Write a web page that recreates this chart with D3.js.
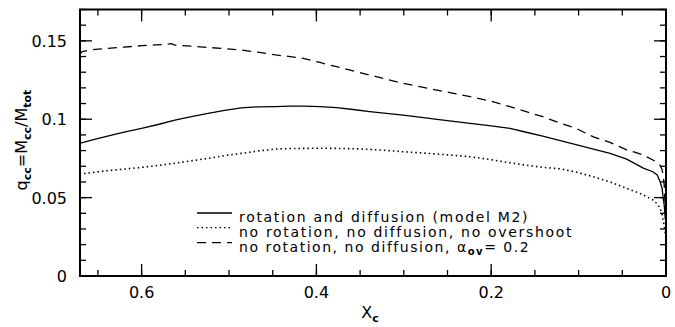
<!DOCTYPE html>
<html>
<head>
<meta charset="utf-8">
<script src="https://cdn.jsdelivr.net/npm/d3@7"></script>
<style>
  body { margin: 0; background: #fff; }
  svg { font-family: "DejaVu Sans", sans-serif; }
  .tick-label { font-size: 16px; }
  .legend { font-family: "DejaVu Sans", sans-serif; font-size: 14px; }
</style>
</head>
<body>
<div id="chart"></div>
<script>
w = 675;
h = 327;
margin = {left: 80, right: 9, top: 9.5, bottom: 51};

// solid: rotation and diffusion (model M2)
xcSolid = [0.671, 0.655, 0.639, 0.62, 0.6, 0.58, 0.562, 0.543, 0.524, 0.505, 0.486, 0.467, 0.447, 0.43, 0.415, 0.396, 0.377, 0.358, 0.339, 0.32, 0.301, 0.282, 0.262, 0.243, 0.224, 0.2, 0.1785, 0.16, 0.141, 0.121, 0.103, 0.083, 0.064, 0.045, 0.035, 0.026, 0.015, 0.01, 0.007, 0.0045, 0.0034, 0.002, 0.0008];
qSolid  = [0.0846, 0.087, 0.0893, 0.0918, 0.0942, 0.0968, 0.0995, 0.1017, 0.1037, 0.1057, 0.1072, 0.1079, 0.1081, 0.1083, 0.1083, 0.108, 0.1074, 0.1062, 0.1049, 0.1038, 0.1026, 0.1013, 0.0999, 0.0987, 0.0974, 0.0958, 0.0942, 0.0917, 0.0893, 0.0864, 0.0838, 0.081, 0.0782, 0.0745, 0.0715, 0.0688, 0.0665, 0.0645, 0.0605, 0.056, 0.0506, 0.045, 0.036];

// dotted: no rotation, no diffusion, no overshoot
xcDot = [0.671, 0.655, 0.639, 0.62, 0.6, 0.58, 0.562, 0.543, 0.524, 0.505, 0.486, 0.467, 0.447, 0.43, 0.415, 0.396, 0.377, 0.358, 0.339, 0.32, 0.301, 0.282, 0.262, 0.243, 0.224, 0.2, 0.1785, 0.16, 0.141, 0.121, 0.103, 0.083, 0.064, 0.045, 0.035, 0.026, 0.015, 0.01, 0.007, 0.0045, 0.0034, 0.002, 0.0008];
qDot  = [0.065, 0.0661, 0.0672, 0.0682, 0.0693, 0.0706, 0.0719, 0.0735, 0.075, 0.0768, 0.0782, 0.0797, 0.081, 0.0813, 0.0814, 0.0815, 0.0814, 0.0812, 0.0808, 0.0801, 0.0793, 0.0786, 0.0778, 0.077, 0.0761, 0.0742, 0.0722, 0.0707, 0.0693, 0.0684, 0.0663, 0.0633, 0.06, 0.0559, 0.0538, 0.0517, 0.0485, 0.046, 0.0434, 0.0395, 0.0357, 0.032, 0.027];

// dashed: no rotation, no diffusion, alpha_ov = 0.2
xcDash = [0.671, 0.668, 0.653, 0.639, 0.62, 0.6, 0.585, 0.572, 0.566, 0.562, 0.543, 0.524, 0.505, 0.486, 0.467, 0.447, 0.43, 0.415, 0.396, 0.377, 0.358, 0.339, 0.32, 0.301, 0.282, 0.262, 0.243, 0.224, 0.2, 0.1785, 0.16, 0.141, 0.121, 0.103, 0.083, 0.064, 0.045, 0.035, 0.026, 0.015, 0.01, 0.007, 0.0045, 0.0034, 0.002, 0.0008];
qDash  = [0.1412, 0.1432, 0.1446, 0.1452, 0.146, 0.1469, 0.1474, 0.1478, 0.1482, 0.1473, 0.1466, 0.1458, 0.145, 0.1441, 0.1428, 0.141, 0.14, 0.1388, 0.1362, 0.1335, 0.1309, 0.1282, 0.1255, 0.1229, 0.1208, 0.1186, 0.1165, 0.1144, 0.1115, 0.108, 0.1048, 0.1016, 0.0975, 0.0942, 0.0887, 0.0852, 0.0804, 0.0788, 0.0772, 0.074, 0.0725, 0.0708, 0.068, 0.0644, 0.058, 0.042];

xMajor = [0.6, 0.4, 0.2, 0];
xMinor = d3.range(0, 0.68, 0.05).map(function(d) { return +d.toFixed(2); });
yMajor = [0, 0.05, 0.1, 0.15];
yMinor = d3.range(0, 0.171, 0.01).map(function(d) { return +d.toFixed(2); });
xTickLabels = ['0.6', '0.4', '0.2', '0'];
yTickLabels = ['0', '0.05', '0.1', '0.15'];

var svg = d3.select('#chart').append('svg')
	.attr('width', w)
	.attr('height', h);

xScale = d3.scaleLinear()
	.domain([0.6705, 0])
	.range([margin.left, w - margin.right]);
yScale = d3.scaleLinear()
	.domain([0, 0.17])
	.range([h - margin.bottom, margin.top]);

var x0 = margin.left, x1 = w - margin.right;
var y0 = h - margin.bottom, y1 = margin.top;

// ticks on all four sides, pointing in
function drawTicks(vals, len) {
	vals.forEach(function(v) {
		var px = xScale(v);
		svg.append('line').attr('x1', px).attr('x2', px).attr('y1', y0).attr('y2', y0 - len)
			.attr('stroke', '#000').attr('stroke-width', 1.3);
		svg.append('line').attr('x1', px).attr('x2', px).attr('y1', y1).attr('y2', y1 + len)
			.attr('stroke', '#000').attr('stroke-width', 1.3);
	});
}
function drawYTicks(vals, len) {
	vals.forEach(function(v) {
		var py = yScale(v);
		svg.append('line').attr('y1', py).attr('y2', py).attr('x1', x0).attr('x2', x0 + len)
			.attr('stroke', '#000').attr('stroke-width', 1.3);
		svg.append('line').attr('y1', py).attr('y2', py).attr('x1', x1).attr('x2', x1 - len)
			.attr('stroke', '#000').attr('stroke-width', 1.3);
	});
}
drawTicks(xMinor, 6);
drawTicks(xMajor, 12);
drawYTicks(yMinor, 6);
drawYTicks(yMajor, 12);

svg.append('rect')
	.attr('x', x0).attr('y', y1)
	.attr('width', x1 - x0).attr('height', y0 - y1)
	.attr('fill', 'none').attr('stroke', '#000').attr('stroke-width', 2);

// tick labels
svg.selectAll('.xlab').data(xMajor).enter().append('text')
	.attr('class', 'tick-label')
	.attr('x', function(d) { return xScale(d); })
	.attr('y', 298)
	.attr('text-anchor', 'middle')
	.text(function(d, i) { return xTickLabels[i]; });

svg.selectAll('.ylab').data(yMajor).enter().append('text')
	.attr('class', 'tick-label')
	.attr('x', 67)
	.attr('y', function(d) { return yScale(d) + 6; })
	.attr('text-anchor', 'end')
	.text(function(d, i) { return yTickLabels[i]; });

// axis titles
var xt = svg.append('text')
	.attr('x', 370).attr('y', 318)
	.attr('text-anchor', 'middle')
	.style('font-size', '16px');
xt.append('tspan').text('X');
xt.append('tspan').attr('dy', 4).style('font-size', '11px').style('font-weight', 'bold').text('c');

var yt = svg.append('text')
	.attr('transform', 'translate(27,' + 140 + ') rotate(-90)')
	.attr('text-anchor', 'middle')
	.style('font-size', '16px');
yt.append('tspan').text('q');
yt.append('tspan').attr('dy', 4).style('font-size', '11px').style('font-weight', 'bold').text('cc');
yt.append('tspan').attr('dy', -4).text('=M');
yt.append('tspan').attr('dy', 4).style('font-size', '11px').style('font-weight', 'bold').text('cc');
yt.append('tspan').attr('dy', -4).text('/M');
yt.append('tspan').attr('dy', 4).style('font-size', '11px').style('font-weight', 'bold').text('tot');

// curves
var line = d3.line()
	.x(function(d) { return xScale(d[0]); })
	.y(function(d) { return yScale(d[1]); });

svg.append('path')
	.datum(d3.zip(xcSolid, qSolid))
	.attr('d', line)
	.attr('fill', 'none').attr('stroke', '#000').attr('stroke-width', 1.3);
svg.append('path')
	.datum(d3.zip(xcDot, qDot))
	.attr('d', line)
	.attr('fill', 'none').attr('stroke', '#000').attr('stroke-width', 1.6)
	.attr('stroke-dasharray', '1.5,3');
svg.append('path')
	.datum(d3.zip(xcDash, qDash))
	.attr('d', line)
	.attr('fill', 'none').attr('stroke', '#000').attr('stroke-width', 1.3)
	.attr('stroke-dasharray', '9,6');

// legend
var legendRows = [
	{dash: null, y: 222, target: 290},
	{dash: '1.5,3', y: 236.7, target: 334},
	{dash: '9,6', y: 251.7, target: 291}
];
legendRows.forEach(function(r, i) {
	svg.append('line')
		.attr('x1', 197).attr('x2', 232)
		.attr('y1', r.y - 9).attr('y2', r.y - 9)
		.attr('stroke', '#000').attr('stroke-width', 1.3)
		.attr('stroke-dasharray', r.dash);
	var t = svg.append('text').attr('class', 'legend').attr('x', 239).attr('y', r.y);
	if (i == 0) t.text('rotation and diffusion (model M2)');
	if (i == 1) t.text('no rotation, no diffusion, no overshoot');
	if (i == 2) {
		t.append('tspan').text('no rotation, no diffusion, \u03b1');
		t.append('tspan').attr('dy', 3).style('font-size', '10px').style('font-weight', 'bold').text('ov');
		t.append('tspan').attr('dy', -3).text('= 0.2');
	}
	var n = t.text().length;
	var cw = t.node().getComputedTextLength();
	t.style('letter-spacing', ((r.target - cw) / n) + 'px');
});
</script>
</body>
</html>
